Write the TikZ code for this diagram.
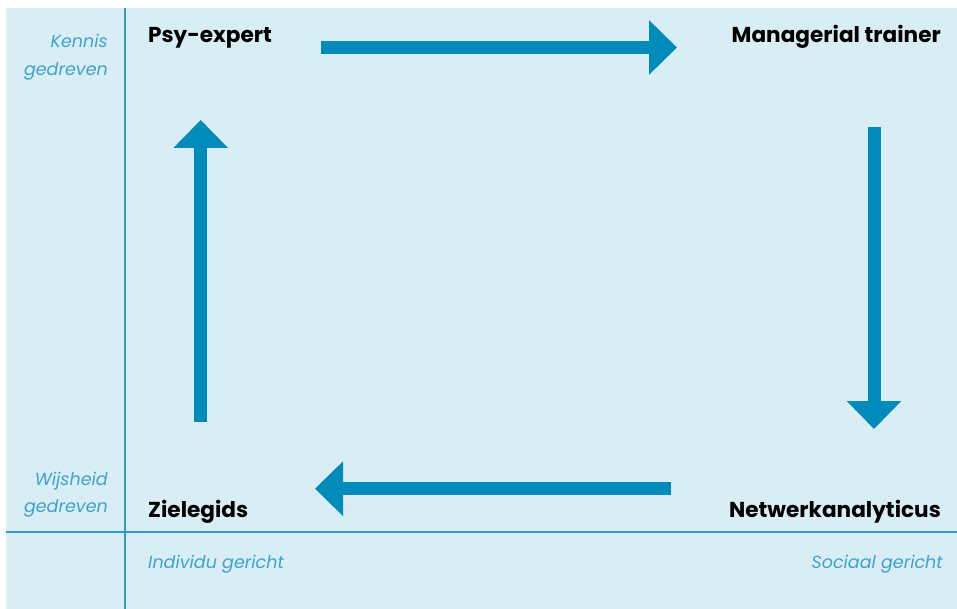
\documentclass[tikz,border=0pt]{standalone}
\usepackage{fontspec}
\setmainfont{Poppins}
\usetikzlibrary{arrows.meta}
\definecolor{bgblue}{HTML}{D9EDF4}
\definecolor{arrowblue}{HTML}{008BBA}
\definecolor{lineblue}{HTML}{2E9CC6}
\definecolor{axisblue}{HTML}{3DA3CE}
\tikzset{
  role/.style={font=\fontsize{21.6}{26}\selectfont\bfseries, text=black, inner sep=0pt},
  axislabel/.style={font=\fontsize{17.5}{28}\selectfont\itshape, text=axisblue, inner sep=0pt},
  bigarrow/.style={draw=arrowblue, line width=13pt, -{Triangle[width=53pt,length=28pt]}},
  divider/.style={draw=lineblue, line width=1.5pt}
}
\begin{document}
\begin{tikzpicture}[x=1pt,y=-1pt]
\useasboundingbox (0,0) rectangle (957,609);
\fill[bgblue] (6,8) rectangle (957,609);
\coordinate (vtop) at (125,8);
\coordinate (vbot) at (125,609);
\coordinate (hl) at (6,532);
\coordinate (hr) at (957,532);
\draw[divider] (vtop) -- (vbot);
\draw[divider] (hl) -- (hr);
% roles
\node[role, anchor=base west] (psy) at (148,43) {Psy-expert};
\node[role, anchor=base east] (man) at (941,43) {Managerial trainer};
\node[role, anchor=base west] (ziel) at (148,517) {Zielegids};
\node[role, anchor=base east] (net) at (941,517) {Netwerkanalyticus};
% axis labels
\node[axislabel, anchor=base east] (ken1) at (108,48) {Kennis};
\node[axislabel, anchor=base east] (ken2) at (108,76) {gedreven};
\node[axislabel, anchor=base east] (wij1) at (108,485) {Wijsheid};
\node[axislabel, anchor=base east] (wij2) at (108,512) {gedreven};
\node[axislabel, anchor=base west] (ind) at (148,568) {Individu gericht};
\node[axislabel, anchor=base east] (soc) at (943,568) {Sociaal gericht};
% arrows
\coordinate (a1s) at (321,47.5);
\coordinate (a1e) at (677,47.5);
\coordinate (a2s) at (874,127);
\coordinate (a2e) at (874,429);
\coordinate (a3s) at (671,488.7);
\coordinate (a3e) at (315,488.7);
\coordinate (a4s) at (200.7,422);
\coordinate (a4e) at (200.7,120);
\draw[bigarrow] (a1s) -- (a1e);
\draw[bigarrow] (a2s) -- (a2e);
\draw[bigarrow] (a3s) -- (a3e);
\draw[bigarrow] (a4s) -- (a4e);
\end{tikzpicture}
\end{document}
